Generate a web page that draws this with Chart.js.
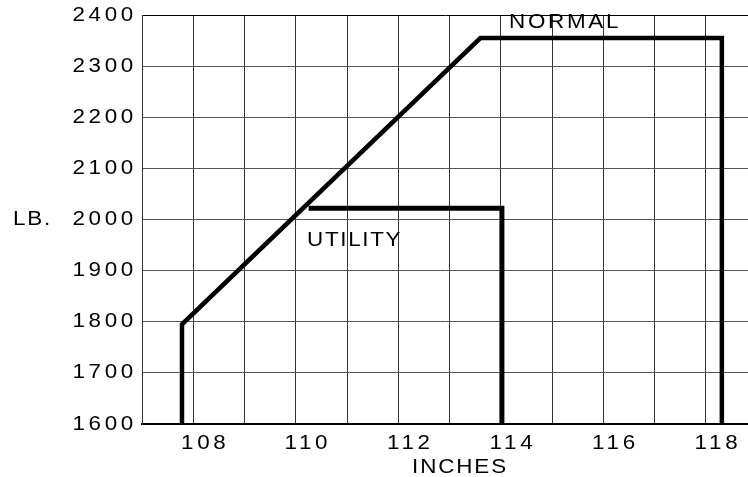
<!DOCTYPE html>
<html><head><meta charset="utf-8">
<script src="https://cdn.jsdelivr.net/npm/chart.js@4"></script>
<style>html,body{margin:0;padding:0;background:#fff}canvas{display:block}</style>
</head><body>
<canvas id="c" width="748" height="477"></canvas>
<script>
const xTickValues = [107, 108, 109, 110, 111, 112, 113, 114, 115, 116, 117, 118];
const xTickLabels = ['', '108', '', '110', '', '112', '', '114', '', '116', '', '118'];
const yTickValues = [1600, 1700, 1800, 1900, 2000, 2100, 2200, 2300, 2400];
const normalInches = [107.78, 107.78, 113.6, 118.31, 118.31];
const normalLb = [1600, 1795, 2355, 2355, 1600];
const utilityInches = [110.25, 114.02, 114.02];
const utilityLb = [2022, 2022, 1600];
const seriesNames = ['NORMAL', 'UTILITY'];
const xTitle = 'INCHES';
const yTitle = 'LB.';

const FONT = '"Liberation Sans", Arial, sans-serif';
const SX = 1.12; // slight horizontal stretch of the lettering, as in the scanned original

const canvas = document.getElementById('c');
const ctx2d = canvas.getContext('2d');
const origFillText = ctx2d.fillText;
ctx2d.fillText = function (t, x, y) {
  this.save();
  this.translate(x, y);
  this.scale(SX, 1);
  origFillText.call(this, t, 0, 0);
  this.restore();
};

const toPoints = (xs, ys) => xs.map((v, i) => ({x: v, y: ys[i]}));

const textPlugin = {
  id: 'texts',
  beforeUpdate(chart) { chart.ctx.letterSpacing = '3.3px'; },
  beforeDraw(chart) { chart.ctx.letterSpacing = '3.3px'; },
  afterDraw(chart) {
    const {ctx, scales: {x, y}} = chart;
    ctx.save();
    ctx.font = '20px ' + FONT;
    ctx.fillStyle = '#000';
    ctx.textBaseline = 'middle';
    ctx.textAlign = 'left';
    ctx.letterSpacing = '2.4px';
    ctx.fillText(seriesNames[0], x.getPixelForValue(114.16), y.getPixelForValue(2385));
    ctx.letterSpacing = '1.5px';
    ctx.fillText(seriesNames[1], x.getPixelForValue(110.22), y.getPixelForValue(1958));
    ctx.letterSpacing = '1.6px';
    ctx.fillText(yTitle, 13, y.getPixelForValue(2000));
    ctx.letterSpacing = '1.7px';
    ctx.fillText(xTitle, 412, 467);
    ctx.restore();
  }
};

new Chart(ctx2d, {
  type: 'scatter',
  data: {
    datasets: [
      {
        label: seriesNames[0],
        data: toPoints(normalInches, normalLb),
        showLine: true,
        borderColor: '#000',
        borderWidth: 4.5,
        borderJoinStyle: 'miter',
        pointRadius: 0,
        tension: 0
      },
      {
        label: seriesNames[1],
        data: toPoints(utilityInches, utilityLb),
        showLine: true,
        borderColor: '#000',
        borderWidth: 5,
        borderJoinStyle: 'miter',
        pointRadius: 0,
        tension: 0
      }
    ]
  },
  options: {
    responsive: false,
    animation: false,
    devicePixelRatio: 1,
    layout: {padding: {left: 0, top: 11, right: 0, bottom: 0}},
    plugins: {legend: {display: false}, tooltip: {enabled: false}},
    scales: {
      x: {
        type: 'linear',
        min: 107,
        max: 118.82,
        afterBuildTicks: s => { s.ticks = xTickValues.map(v => ({value: v})); },
        afterFit: s => { s.height = 53; },
        grid: {color: '#333', lineWidth: 1, drawTicks: false},
        border: {display: true, color: '#000', width: 2},
        ticks: {
          autoSkip: false,
          maxRotation: 0,
          padding: 9,
          labelOffset: 12,
          color: '#000',
          font: {family: FONT, size: 20, lineHeight: 1},
          callback: v => { const i = xTickValues.indexOf(v); return i >= 0 ? xTickLabels[i] : ''; }
        }
      },
      y: {
        type: 'linear',
        min: 1600,
        max: 2400,
        afterBuildTicks: s => { s.ticks = yTickValues.map(v => ({value: v})); },
        afterFit: s => { s.width = 142; },
        grid: {
          color: c => (c.tick && (c.tick.value === 1600 || c.tick.value === 2400)) ? '#000' : '#555',
          lineWidth: 1,
          drawTicks: false
        },
        border: {display: true, color: '#333', width: 1},
        ticks: {
          autoSkip: false,
          padding: 5,
          color: '#000',
          font: {family: FONT, size: 20, lineHeight: 1},
          callback: v => String(v)
        }
      }
    }
  },
  plugins: [textPlugin]
});
</script>
</body></html>
